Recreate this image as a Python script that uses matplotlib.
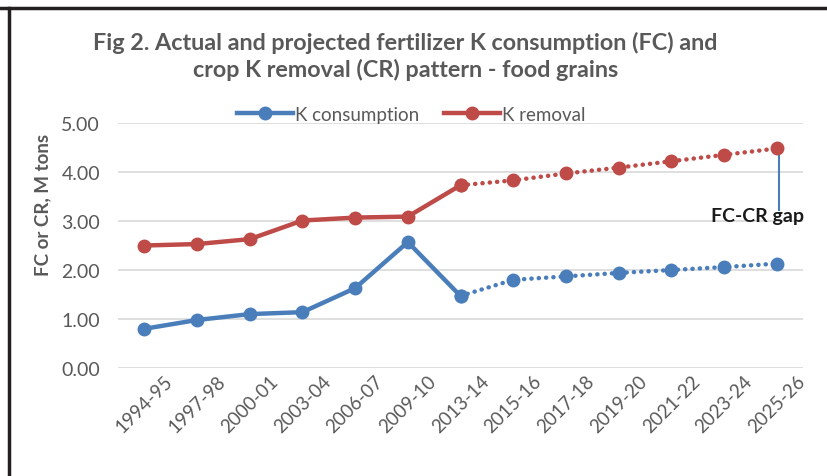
import matplotlib
matplotlib.use("Agg")
import matplotlib.pyplot as plt
from matplotlib.lines import Line2D

# Data
years = ["1994-95", "1997-98", "2000-01", "2003-04", "2006-07", "2009-10", "2013-14",
         "2015-16", "2017-18", "2019-20", "2021-22", "2023-24", "2025-26"]
k_consumption = [0.80, 0.98, 1.10, 1.14, 1.63, 2.57, 1.47,
                 1.80, 1.87, 1.94, 2.00, 2.06, 2.13]
k_removal = [2.50, 2.53, 2.63, 3.01, 3.07, 3.09, 3.73,
             3.83, 3.97, 4.09, 4.22, 4.35, 4.48]
n_actual = 7  # first 7 points are actual, the rest projected
gap_label_level = 3.22

BLUE = "#4A7EBB"
RED = "#BE4B48"
GRAY = "#595959"
FONT = "Lato"

fig = plt.figure(figsize=(8.27, 4.77), dpi=100)
ax = fig.add_axes([0.1427, 0.2264, 0.8283, 0.5136])

x = list(range(len(years)))
line_kw = dict(lw=3.2, marker="o", markersize=9, clip_on=False, zorder=3)
dot_style = (0, (0.05, 1.6))

# actual (solid) and projected (dotted) parts
ax.plot(x[:n_actual], k_consumption[:n_actual], color=BLUE, solid_capstyle="round", **line_kw)
ax.plot(x[n_actual - 1:], k_consumption[n_actual - 1:], color=BLUE, linestyle=dot_style,
        dash_capstyle="round", **line_kw)
ax.plot(x[:n_actual], k_removal[:n_actual], color=RED, solid_capstyle="round", **line_kw)
ax.plot(x[n_actual - 1:], k_removal[n_actual - 1:], color=RED, linestyle=dot_style,
        dash_capstyle="round", **line_kw)

# FC-CR gap marker
ax.plot([x[-1] + 0.04, x[-1] + 0.04], [k_removal[-1], gap_label_level], color=BLUE, lw=1.5, zorder=2)
ax.text(x[-1] - 0.36, gap_label_level - 0.1, "FC-CR gap", ha="center", va="center",
        fontsize=14, fontweight="bold", color="#1a1a1a", family=FONT, zorder=4)

ax.set_xlim(-0.5, len(years) - 0.5)
ax.set_ylim(0, 5)
ax.set_yticks([0, 1, 2, 3, 4, 5])
ax.set_yticklabels([f"{v:.2f}" for v in [0, 1, 2, 3, 4, 5]])
ax.set_xticks(x)
ax.set_xticklabels(years, rotation=45, ha="center")
ax.yaxis.grid(True, color="#D9D9D9", lw=1.2)
ax.set_axisbelow(True)
for s in ax.spines.values():
    s.set_visible(False)
ax.tick_params(axis="both", length=0, colors=GRAY)
ax.tick_params(axis="y", pad=13, labelsize=14)
ax.tick_params(axis="x", pad=3, labelsize=13.5)
for lab in ax.get_xticklabels() + ax.get_yticklabels():
    lab.set_family(FONT)

ax.set_ylabel("FC or CR, M tons")
ylab = ax.yaxis.label
ylab.set_family(FONT)
ylab.set_fontsize(13.5)
ylab.set_fontweight("bold")
ylab.set_color(GRAY)
ax.yaxis.set_label_coords(-0.097, 0.67)

# title
fig.text(0.49, 0.882, "Fig 2. Actual and projected fertilizer K consumption (FC) and\n"
         "crop K removal (CR) pattern - food grains", ha="center", va="center",
         fontsize=16.8, fontweight="bold", color=GRAY, family=FONT, linespacing=1.3)

# legend
handles = [Line2D([], [], color=BLUE, lw=3.2, marker="o", markersize=9),
           Line2D([], [], color=RED, lw=3.2, marker="o", markersize=9)]
leg = fig.legend(handles, ["K consumption", "K removal"], loc="center",
                 bbox_to_anchor=(0.497, 0.758), ncol=2, frameon=False,
                 handlelength=3.0, handletextpad=0.1, columnspacing=1.3,
                 prop={"family": FONT, "size": 13.5})
for t in leg.get_texts():
    t.set_color(GRAY)

# black frame lines at top and left of the cropped picture
fig.add_artist(Line2D([0.0, 1.0], [0.981, 0.981], color="#231F20", lw=2.5, transform=fig.transFigure))
fig.add_artist(Line2D([0.0108, 0.0108], [0.0, 0.981], color="#231F20", lw=2.5, transform=fig.transFigure))

fig.savefig("out.png", dpi=100, facecolor="white")
